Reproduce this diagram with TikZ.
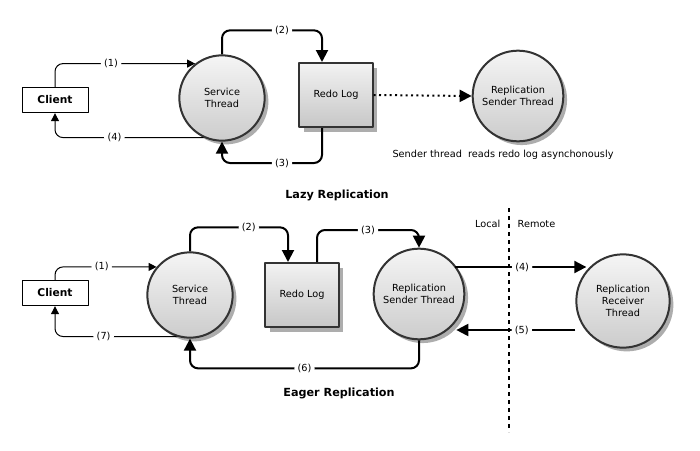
\documentclass[tikz,border=0pt]{standalone}
\usepackage{fontspec}
\setmainfont{DejaVu Sans}
\usepackage{tikz}
\usetikzlibrary{positioning,calc,arrows.meta,shadows}

\begin{document}
\begin{tikzpicture}[x=0.75pt, y=-0.75pt, font=\fontsize{7.3}{9}\selectfont,
		line cap=butt, line join=round]
	\useasboundingbox (0,0) rectangle (700,450);
	
	% ---- styles ----
	\tikzset{
		thread/.style={circle, draw=black!80, line width=1.5pt, minimum size=64pt,
			inner sep=0pt, align=center, top color=black!4, bottom color=black!20,
			drop shadow={shadow xshift=2.8pt, shadow yshift=-2.8pt, fill=black!32, opacity=1}},
		bigthread/.style={thread, minimum size=68pt},
		logbox/.style={rectangle, draw=black!80, line width=1.5pt, minimum width=55pt,
			minimum height=48pt, inner sep=0pt, top color=black!5, bottom color=black!22,
			drop shadow={shadow xshift=3.5pt, shadow yshift=-3.5pt, fill=black!32, opacity=1}},
		clientbox/.style={rectangle, draw=black, line width=0.75pt, minimum width=49.5pt,
			minimum height=19pt, inner sep=0pt, font=\fontsize{8}{9}\selectfont\bfseries},
		title/.style={font=\fontsize{8.4}{10}\selectfont\bfseries},
		lbl/.style={fill=white, inner sep=2.5pt},
		thinarr/.style={-{Triangle[length=6pt,width=6pt]}, line width=0.75pt, rounded corners=6pt},
		thickarr/.style={-{Triangle[length=9pt,width=9pt]}, line width=1.5pt, rounded corners=6pt},
		dotarr/.style={-{Triangle[length=9pt,width=9pt]}, line width=1.5pt,
			dash pattern=on 1.5pt off 2.5pt}
	}
	
	% ---- Lazy Replication ----
	\node[clientbox] (client1) at (55,100) {Client};
	\node[thread]    (svc1)    at (222,98) {Service\\Thread};
	\node[logbox]    (redo1)   at (336,95) {Redo Log};
	\node[bigthread] (send1)   at (518,96) {Replication\\Sender Thread};
	\node (note1) at (503,155) {Sender thread\ \ reads redo log asynchonously};
	\node[title] (lazy) at (337,195) {Lazy Replication};
	
	\draw[thinarr] (client1.north) |- node[lbl, pos=0.7] {(1)} (svc1.128);
	\draw[thinarr] (svc1.245) -| node[lbl, pos=0.3] {(4)} (client1.south);
	\draw[thickarr] (svc1.north) -- ++(0,-24)
		-| node[lbl, pos=0.3] {(2)} ($(redo1.north)+(-14,0)$);
	\draw[thickarr] ($(redo1.south)+(-14,0)$) -- ++(0,35)
		-| node[lbl, pos=0.2] {(3)} (svc1.south);
	\draw[dotarr] (redo1.east) -- (send1.west);
	
	% ---- Eager Replication ----
	\node[clientbox] (client2) at (55,293) {Client};
	\node[thread]    (svc2)    at (190,295) {Service\\Thread};
	\node[logbox]    (redo2)   at (302,295) {Redo Log};
	\node[bigthread] (send2)   at (419,294) {Replication\\Sender Thread};
	\node[bigthread, minimum size=70pt] (recv2) at (623,301) {Replication\\Receiver\\Thread};
	\node[title] (eager) at (339,393) {Eager Replication};
	
	% ---- local / remote ----
	\coordinate (divtop) at (509,208);
	\coordinate (divbot) at (509,432);
	\draw[line width=1.5pt, dash pattern=on 3pt off 3pt] (divtop) -- (divbot);
	\node[left=3pt of divtop, yshift=-12pt] (local) {Local};
	\node[right=3pt of divtop, yshift=-12pt] (remote) {Remote};
	
	\draw[thinarr] (client2.north) |- node[lbl, pos=0.73] {(1)} (svc2.140);
	\draw[thinarr] (svc2.252) -| node[lbl, pos=0.3] {(7)} (client2.south);
	\draw[thickarr] (svc2.north) -- ++(0,-24)
		-| node[lbl, pos=0.3] {(2)} ($(redo2.north)+(-14,0)$);
	\draw[thickarr] ($(redo2.north)+(15,0)$) -- ++(0,-32)
		-| node[lbl, pos=0.25] {(3)} (send2.north);
	\draw[thickarr] (send2.south) -- ++(0,28)
		-| node[lbl, pos=0.25] {(6)} (svc2.south);
	\draw[thickarr] ($(send2.east)+(-10,-27)$)
		-- node[lbl, pos=0.51] {(4)} ($(recv2.west)+(11,-34)$);
	\draw[thickarr] ($(recv2.west)+(0,29)$)
		-- node[lbl, pos=0.45] {(5)} ($(send2.east)+(-9,36)$);
\end{tikzpicture}
\end{document}
